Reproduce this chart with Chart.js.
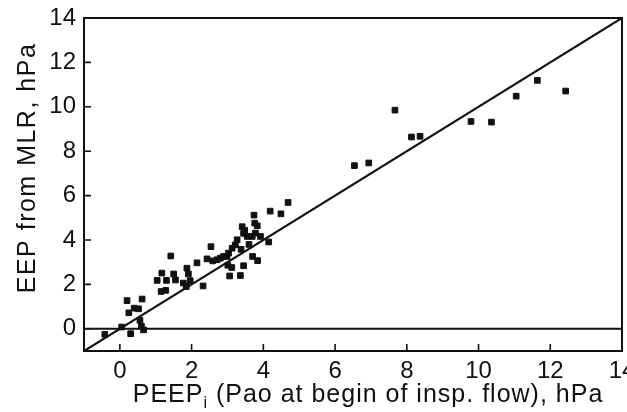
<!DOCTYPE html>
<html>
<head>
<meta charset="utf-8">
<script src="https://cdn.jsdelivr.net/npm/chart.js@4.4.1/dist/chart.umd.min.js"></script>
<style>
  html, body { margin: 0; padding: 0; background: #fff; }
  #wrap { width: 627px; height: 412px; }
</style>
</head>
<body>
<div id="wrap"><canvas id="c" width="627" height="412"></canvas></div>
<script>
// ---- data ----
const peepI = [
  -0.42, 0.05, 0.30, 0.66, 0.60, 0.56, 0.25, 0.40, 0.52, 0.20, 0.62,
  1.15, 1.28, 1.04, 1.17, 1.30, 1.50, 1.55, 1.42, 1.77, 1.85, 1.87, 1.91, 1.96,
  2.15, 2.32, 2.54, 2.43, 2.59, 2.71, 2.80, 2.89, 2.99, 3.03, 3.13, 3.22, 3.27,
  3.01, 3.06, 3.36, 3.45, 3.12, 3.41, 3.48, 3.45, 3.55, 3.69, 3.78, 3.92,
  3.76, 3.83, 3.74, 4.19, 4.49, 4.69, 4.15, 3.70, 3.84, 3.38, 3.60,
  6.54, 6.94, 7.67, 8.13, 8.37, 9.79, 10.36, 11.05, 11.64, 12.43
];
const eepMLR = [
  -0.25, 0.08, -0.22, -0.05, 0.12, 0.38, 0.72, 0.93, 0.90, 1.27, 1.34,
  1.68, 1.73, 2.18, 2.51, 2.18, 2.47, 2.20, 3.28, 2.06, 1.90, 2.73, 2.47, 2.17,
  2.97, 1.93, 3.70, 3.15, 3.06, 3.11, 3.18, 3.26, 3.26, 3.41, 3.63, 3.78, 4.01,
  2.86, 2.38, 2.40, 2.84, 2.76, 4.60, 4.44, 4.30, 4.16, 4.16, 4.31, 4.16,
  4.76, 4.64, 5.12, 5.30, 5.18, 5.69, 3.91, 3.26, 3.07, 3.58, 3.80,
  7.35, 7.47, 9.85, 8.64, 8.67, 9.34, 9.31, 10.48, 11.19, 10.71
];
const identityX = [-1, 14];
const identityY = [-1, 14];
const zeroX = [-1, 14];
const zeroY = [0, 0];
const xTicks = [0, 2, 4, 6, 8, 10, 12, 14];
const yTicks = [0, 2, 4, 6, 8, 10, 12, 14];
const xMin = -1, xMax = 14, yMin = -1, yMax = 14;
const xTitleMain = "PEEP";
const xTitleSub = "i";
const xTitleRest = " (Pao at begin of insp. flow), hPa";
const yTitle = "EEP from MLR, hPa";

const FONT = "'Liberation Sans', Arial, Helvetica, sans-serif";
const INK = '#111';

const pts = peepI.map((x, i) => ({ x: x, y: eepMLR[i] }));
const idLine = identityX.map((x, i) => ({ x: x, y: identityY[i] }));
const zLine = zeroX.map((x, i) => ({ x: x, y: zeroY[i] }));

const framePlugin = {
  id: 'frame',
  afterDatasetsDraw(chart) {
    const { ctx, chartArea: a, scales } = chart;
    ctx.save();
    ctx.strokeStyle = INK;
    ctx.lineWidth = 2;
    ctx.strokeRect(a.left, a.top, a.right - a.left, a.bottom - a.top);
    ctx.lineWidth = 1.6;
    ctx.beginPath();
    xTicks.forEach(v => {
      if (v >= xMax) return;
      const px = scales.x.getPixelForValue(v);
      ctx.moveTo(px, a.bottom);
      ctx.lineTo(px, a.bottom - 7);
    });
    yTicks.forEach(v => {
      if (v >= yMax) return;
      const py = scales.y.getPixelForValue(v);
      ctx.moveTo(a.left, py);
      ctx.lineTo(a.left + 7, py);
    });
    ctx.stroke();
    ctx.restore();
  },
  afterDraw(chart) {
    const { ctx } = chart;
    ctx.save();
    ctx.fillStyle = INK;
    ctx.letterSpacing = '1px';
    ctx.font = "25px " + FONT;
    ctx.textBaseline = 'alphabetic';
    const w1 = ctx.measureText(xTitleMain).width;
    ctx.font = "16px " + FONT;
    const w2 = ctx.measureText(xTitleSub).width;
    ctx.font = "25px " + FONT;
    const w3 = ctx.measureText(xTitleRest).width;
    const total = w1 + w2 + w3;
    let x0 = 368 - total / 2;
    const base = 402;
    ctx.textAlign = 'left';
    ctx.fillText(xTitleMain, x0, base);
    ctx.font = "16px " + FONT;
    ctx.fillText(xTitleSub, x0 + w1, base + 6);
    ctx.font = "25px " + FONT;
    ctx.fillText(xTitleRest, x0 + w1 + w2, base);
    // y title
    ctx.letterSpacing = '1.5px';
    ctx.translate(28, 168);
    ctx.rotate(-Math.PI / 2);
    ctx.textAlign = 'center';
    ctx.textBaseline = 'middle';
    ctx.font = "25px " + FONT;
    ctx.fillText(yTitle, 0, 0);
    ctx.restore();
  }
};

new Chart(document.getElementById('c'), {
  type: 'scatter',
  data: {
    datasets: [
      {
        data: pts,
        pointStyle: 'rect',
        pointRadius: 4,
        backgroundColor: INK,
        borderColor: INK,
        borderWidth: 1,
        order: 1
      },
      {
        type: 'line',
        data: idLine,
        borderColor: INK,
        borderWidth: 2.2,
        pointRadius: 0,
        fill: false,
        order: 2
      },
      {
        type: 'line',
        data: zLine,
        borderColor: INK,
        borderWidth: 2,
        pointRadius: 0,
        fill: false,
        order: 2
      }
    ]
  },
  options: {
    responsive: false,
    animation: false,
    devicePixelRatio: 1,
    layout: { padding: { top: 18, right: 5, left: 0, bottom: 0 } },
    plugins: { legend: { display: false }, tooltip: { enabled: false } },
    scales: {
      x: {
        type: 'linear',
        min: xMin, max: xMax,
        afterBuildTicks: s => { s.ticks = xTicks.map(v => ({ value: v })); },
        afterFit: s => { s.height = 61; s.paddingLeft = 0; s.paddingRight = 0; },
        grid: { display: false, drawTicks: false },
        border: { display: false },
        ticks: { color: INK, font: { family: FONT, size: 24 }, padding: 6, maxRotation: 0, autoSkip: false }
      },
      y: {
        type: 'linear',
        min: yMin, max: yMax,
        afterBuildTicks: s => { s.ticks = yTicks.map(v => ({ value: v })); },
        afterFit: s => { s.width = 84; s.paddingTop = 0; s.paddingBottom = 0; },
        grid: { display: false, drawTicks: false },
        border: { display: false },
        ticks: { color: INK, font: { family: FONT, size: 24 }, padding: 8, autoSkip: false }
      }
    }
  },
  plugins: [framePlugin]
});
</script>
</body>
</html>
